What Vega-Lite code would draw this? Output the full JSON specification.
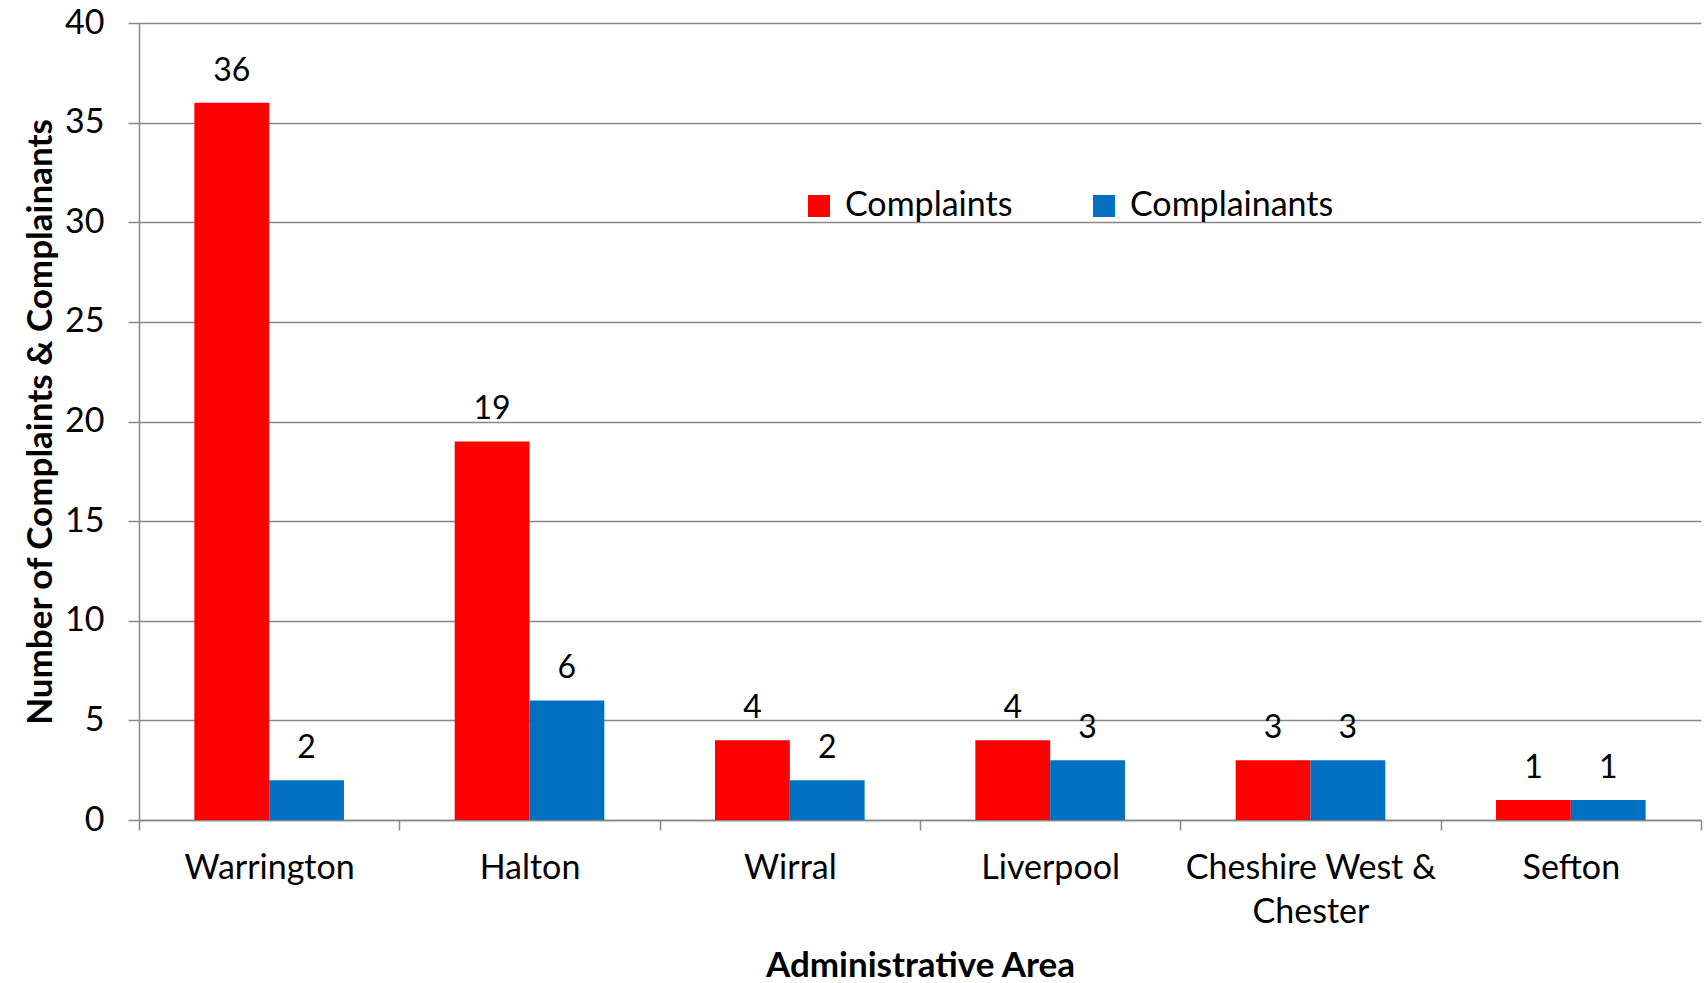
{
  "$schema": "https://vega.github.io/schema/vega-lite/v6.json",
  "width": 1562,
  "height": 797,
  "padding": {"left": 23, "top": 6, "right": 5, "bottom": 0},
  "background": "white",
  "config": {
    "font": "Lato",
    "view": {"stroke": null},
    "axis": {"labelFont": "Lato", "titleFont": "Lato", "labelColor": "black", "titleColor": "black"}
  },
  "data": {
    "values": [
      {"area": "Warrington", "series": "Complaints", "value": 36},
      {"area": "Warrington", "series": "Complainants", "value": 2},
      {"area": "Halton", "series": "Complaints", "value": 19},
      {"area": "Halton", "series": "Complainants", "value": 6},
      {"area": "Wirral", "series": "Complaints", "value": 4},
      {"area": "Wirral", "series": "Complainants", "value": 2},
      {"area": "Liverpool", "series": "Complaints", "value": 4},
      {"area": "Liverpool", "series": "Complainants", "value": 3},
      {"area": "Cheshire West & Chester", "series": "Complaints", "value": 3},
      {"area": "Cheshire West & Chester", "series": "Complainants", "value": 3},
      {"area": "Sefton", "series": "Complaints", "value": 1},
      {"area": "Sefton", "series": "Complainants", "value": 1}
    ]
  },
  "encoding": {
    "x": {
      "field": "area", "type": "nominal", "sort": null,
      "scale": {"paddingInner": 0, "paddingOuter": 0},
      "axis": {
        "title": "Administrative Area",
        "titleFontSize": 35, "titleFontWeight": "bold", "titlePadding": 19,
        "labelFontSize": 34, "labelAngle": 0, "labelPadding": 21, "labelLimit": 0,
        "labelLineHeight": 44,
        "labelExpr": "datum.label == 'Cheshire West & Chester' ? ['Cheshire West &', 'Chester'] : datum.label",
        "tickBand": "extent", "tickSize": 10, "tickColor": "#888888", "tickWidth": 1.5,
        "domainColor": "#888888", "domainWidth": 1.5, "grid": false
      }
    },
    "xOffset": {
      "field": "series", "type": "nominal", "sort": ["Complaints", "Complainants"],
      "scale": {"paddingInner": 0, "paddingOuter": 0.74}
    },
    "y": {
      "field": "value", "type": "quantitative",
      "scale": {"domain": [0, 40]},
      "axis": {
        "title": "Number of Complaints & Complainants",
        "titleFontSize": 35, "titleFontWeight": "bold", "titlePadding": 6,
        "labelFontSize": 34, "labelPadding": 24,
        "values": [0, 5, 10, 15, 20, 25, 30, 35, 40],
        "tickSize": 11, "tickColor": "#888888", "tickWidth": 1.5,
        "domainColor": "#888888", "domainWidth": 1.5,
        "gridColor": "#888888", "gridWidth": 1.5
      }
    }
  },
  "layer": [
    {
      "mark": {"type": "bar"},
      "encoding": {
        "color": {
          "field": "series", "type": "nominal",
          "scale": {"domain": ["Complaints", "Complainants"], "range": ["#FF0000", "#0070C0"]},
          "legend": {
            "title": null, "orient": "none", "direction": "horizontal",
            "legendX": 663, "legendY": 166,
            "labelFontSize": 34, "labelFont": "Lato", "labelColor": "black", "labelLimit": 0,
            "symbolType": "square", "symbolSize": 484, "symbolStrokeWidth": 0,
            "columnPadding": 74, "labelOffset": 9
          }
        }
      }
    },
    {
      "mark": {"type": "text", "baseline": "bottom", "dy": -15, "fontSize": 32, "color": "black", "font": "Lato"},
      "encoding": {"text": {"field": "value", "type": "quantitative"}}
    }
  ]
}
